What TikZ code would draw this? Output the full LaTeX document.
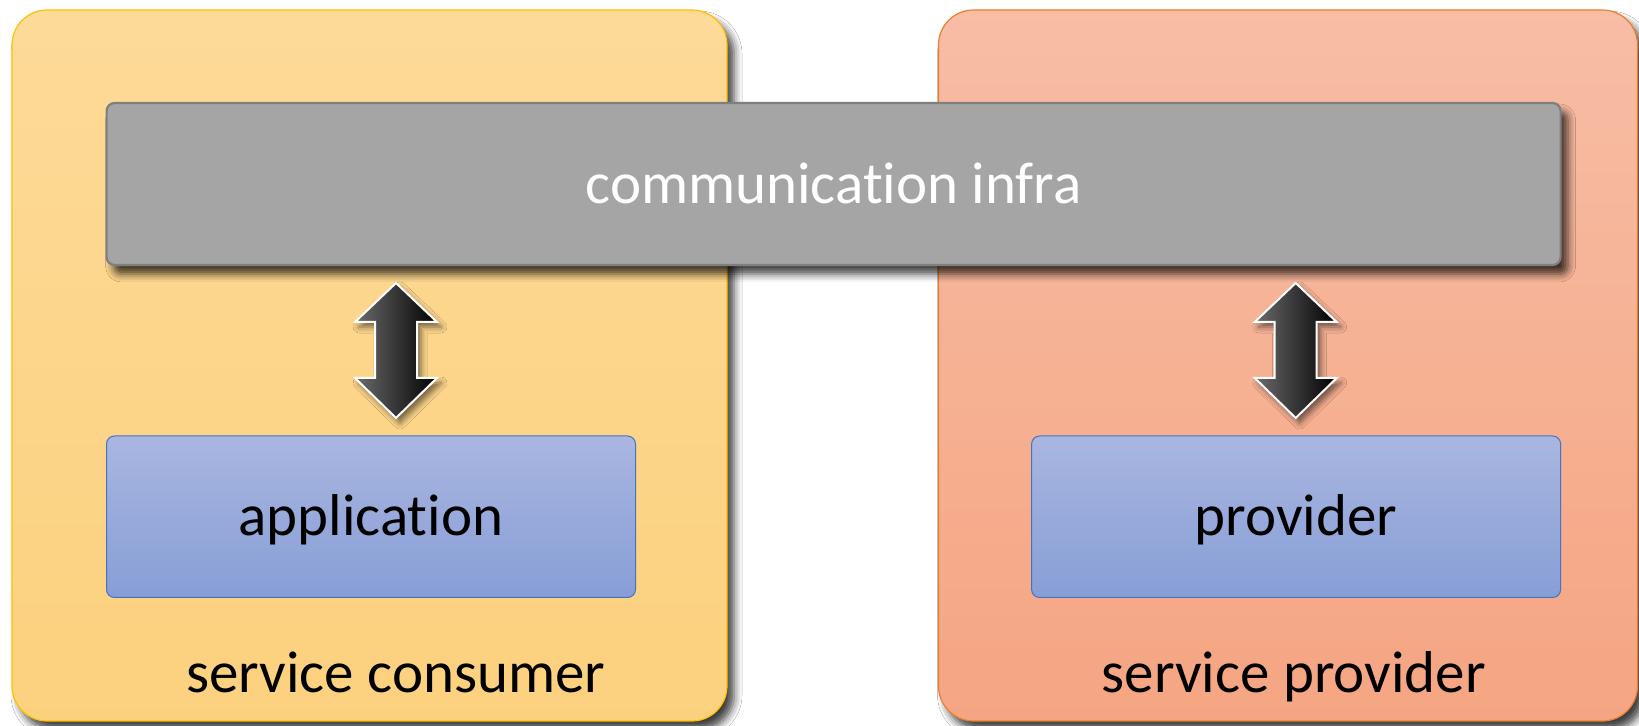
\documentclass[tikz,border=0pt]{standalone}
\usepackage{fontspec}
\setmainfont{Carlito}[RawFeature=-liga]
\usetikzlibrary{shadows.blur}

\definecolor{consTop}{HTML}{FDDA98}
\definecolor{consBot}{HTML}{FCD17E}
\definecolor{consLine}{HTML}{FFC000}
\definecolor{provTop}{HTML}{F7BDA5}
\definecolor{provBot}{HTML}{F5A582}
\definecolor{provLine}{HTML}{ED7D31}
\definecolor{infraFill}{HTML}{A5A5A5}
\definecolor{infraLine}{HTML}{7F7F7F}
\definecolor{compTop}{HTML}{A9B6E0}
\definecolor{compBot}{HTML}{879ED6}
\definecolor{compLine}{HTML}{4472C4}

\tikzset{
  softshadow/.style={blur shadow={shadow xshift=3.5pt, shadow yshift=-4.5pt,
      shadow blur radius=4pt, shadow opacity=75}},
  panel/.style={rectangle, rounded corners=17.5pt, line width=0.6pt,
      minimum height=355.5pt, softshadow},
  infrabox/.style={rectangle, rounded corners=4pt, draw=infraLine, line width=1.1pt,
      fill=infraFill, text=white, minimum width=727pt, minimum height=81pt,
      text height=19.25pt, text depth=0pt, softshadow},
  compbox/.style={rectangle, rounded corners=4pt, draw=compLine, line width=0.5pt,
      top color=compTop, bottom color=compBot, minimum width=264.5pt,
      minimum height=80.75pt, text height=19.25pt, text depth=0pt},
  caption/.style={anchor=base},
  dblarrow/.pic={
    \path[draw=white, line width=1pt, line join=miter,
          left color=black!58, right color=black,
          blur shadow={shadow xshift=2pt, shadow yshift=-2.5pt,
                       shadow blur radius=3pt, shadow opacity=55}]
      (0,-67.5) -- (41,-28.5) -- (21,-28.5) -- (21,27.5) -- (41,27.5)
      -- (0,67.5) -- (-41,27.5) -- (-21,27.5) -- (-21,-28.5) -- (-41,-28.5)
      -- cycle;
  }
}

\begin{document}
\begin{tikzpicture}[x=0.5pt, y=-0.5pt,
    every node/.style={font=\fontsize{29.5}{35}\selectfont, inner sep=0pt, outer sep=0pt}]
  \useasboundingbox[fill=white] (0,0) rectangle (1639,726);

  % the two parties
  \node[panel, draw=consLine, top color=consTop, bottom color=consBot,
        minimum width=357.5pt] (consumer) at (369.5,365.5) {};
  \node[panel, draw=provLine, top color=provTop, bottom color=provBot,
        minimum width=349.5pt] (provider) at (1288,365.5) {};

  % shared communication layer
  \node[infrabox] (infra) at (833.6,184) {communication infra};

  % components inside each party
  \node[compbox] (app) at (371,516.75) {application};
  \node[compbox] (prov) at (1296.1,516.75) {provider};

  % links between components and the infrastructure
  \pic (linkL) at (396,350.5) {dblarrow};
  \pic (linkR) at (1295.7,350.5) {dblarrow};

  % party captions
  \node[caption] (consumerlbl) at (395.6,692.5) {service consumer};
  \node[caption] (providerlbl) at (1293.6,692.5) {service provider};
\end{tikzpicture}
\end{document}
